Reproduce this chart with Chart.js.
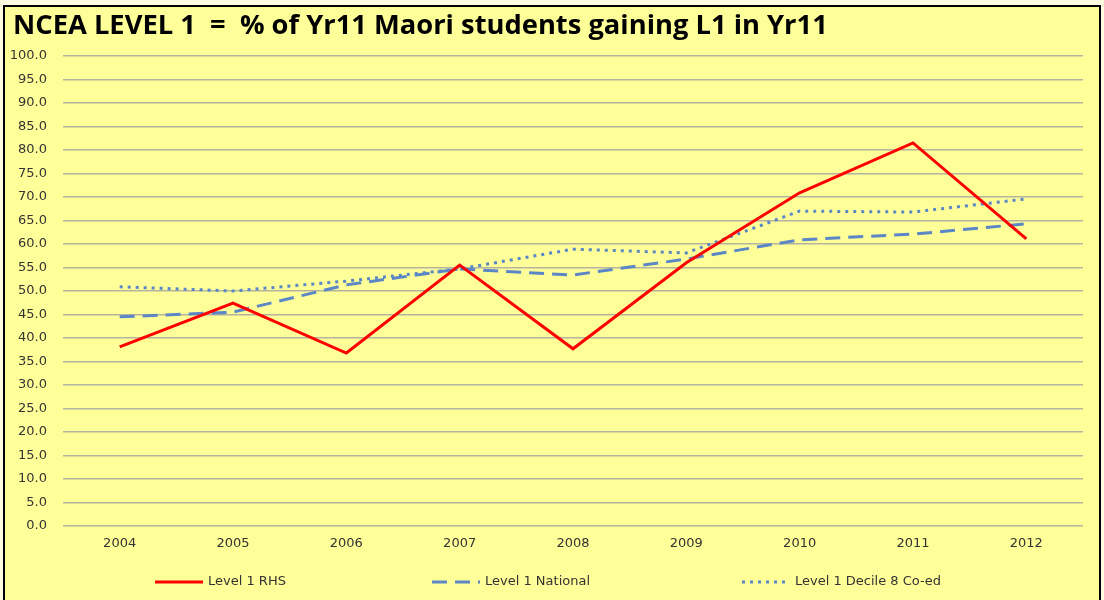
<!DOCTYPE html>
<html><head><meta charset="utf-8">
<script src="https://cdn.jsdelivr.net/npm/chart.js@4/dist/chart.umd.min.js"></script>
<style>html,body{margin:0;padding:0;background:#fdfbe2;}canvas{display:block;}</style>
</head><body>
<div style="width:1104px;height:600px;"><canvas id="c" width="1104" height="600"></canvas></div>
<script>
const chartTitle = 'NCEA LEVEL 1  =  % of Yr11 Maori students gaining L1 in Yr11';
const years = ['2004','2005','2006','2007','2008','2009','2010','2011','2012'];
const rhs = [38.1, 47.4, 36.8, 55.5, 37.7, 56.0, 70.9, 81.5, 61.1];
const national = [44.5, 45.5, 51.3, 54.7, 53.4, 56.8, 60.9, 62.1, 64.3];
const decile8 = [50.9, 50.0, 52.1, 54.7, 58.9, 58.1, 67.0, 66.8, 69.6];
const seriesNames = ['Level 1 RHS', 'Level 1 National', 'Level 1 Decile 8 Co-ed'];

const FONT = '"DejaVu Sans", Verdana, sans-serif';
const TXT = '#333333';

const frame = {
  id: 'frame',
  beforeDraw(chart) {
    const ctx = chart.ctx;
    ctx.save();
    ctx.fillStyle = '#fdfbe2';
    ctx.fillRect(0, 0, chart.width, chart.height);
    ctx.fillStyle = '#ffff99';
    ctx.fillRect(4, 6, 1096, 604);
    ctx.strokeStyle = '#000';
    ctx.lineWidth = 2;
    ctx.strokeRect(4, 6, 1096, 604);
    let size = 23;
    ctx.font = 'bold ' + size + 'px "Open Sans", sans-serif';
    const w = ctx.measureText(chartTitle).width;
    size = size * 815 / w;
    ctx.font = 'bold ' + size + 'px "Open Sans", sans-serif';
    ctx.fillStyle = '#000';
    ctx.textBaseline = 'middle';
    ctx.textAlign = 'left';
    ctx.fillText(chartTitle, 13, 26);
    ctx.restore();
  },
  afterDraw(chart) {
    const ctx = chart.ctx;
    const xs = [155, 432, 742];
    ctx.save();
    ctx.font = '13px ' + FONT;
    ctx.textBaseline = 'middle';
    ctx.textAlign = 'left';
    chart.data.datasets.forEach((ds, i) => {
      const y = 582;
      ctx.strokeStyle = ds.borderColor;
      ctx.lineWidth = ds.borderWidth;
      ctx.setLineDash(ds.borderDash || []);
      ctx.beginPath();
      ctx.moveTo(xs[i], y);
      ctx.lineTo(xs[i] + 48, y);
      ctx.stroke();
      ctx.setLineDash([]);
      ctx.fillStyle = TXT;
      ctx.fillText(ds.label, xs[i] + 53, y);
    });
    ctx.restore();
  }
};

new Chart(document.getElementById('c'), {
  type: 'line',
  data: {
    labels: years,
    datasets: [
      { label: seriesNames[0], data: rhs, borderColor: '#ff0000', borderWidth: 3, pointRadius: 0, tension: 0, fill: false },
      { label: seriesNames[1], data: national, borderColor: '#5b87c6', borderWidth: 3, borderDash: [15, 8], pointRadius: 0, tension: 0, fill: false },
      { label: seriesNames[2], data: decile8, borderColor: '#5b87c6', borderWidth: 3, borderDash: [3, 5], pointRadius: 0, tension: 0, fill: false }
    ]
  },
  options: {
    responsive: false,
    animation: false,
    events: [],
    layout: { padding: { top: 56, left: 0, right: 21, bottom: 0 } },
    plugins: { legend: { display: false }, tooltip: { enabled: false }, title: { display: false } },
    scales: {
      x: {
        offset: true,
        grid: { display: false, drawTicks: false },
        border: { display: false },
        ticks: { padding: 10, color: TXT, font: { family: FONT, size: 13 }, maxRotation: 0 },
        afterFit(s) { s.height = 74; }
      },
      y: {
        min: 0, max: 100,
        ticks: { stepSize: 5, padding: 16, color: TXT, font: { family: FONT, size: 13 }, callback: v => v.toFixed(1) },
        grid: { color: '#b4b4a0', lineWidth: 1.5, drawTicks: false },
        border: { display: false },
        afterFit(s) { s.width = 63; }
      }
    }
  },
  plugins: [frame]
});
</script>
</body></html>
